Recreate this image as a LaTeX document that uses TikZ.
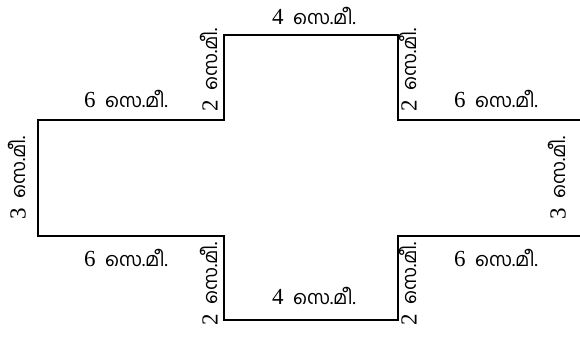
\documentclass[tikz,border=0pt]{standalone}
\usepackage{fontspec}
\setmainfont{Liberation Serif}
\newfontfamily\malfont[Script=Malayalam]{Hind Kochi}
\newcommand{\unitcm}{{\malfont\fontsize{19}{24}\selectfont സെ.മീ.}}
\newcommand{\measure}[1]{{\fontsize{23}{24}\selectfont #1}\ \ \unitcm}

\begin{document}
\begin{tikzpicture}[x=1pt,y=-1pt,font=\fontsize{19}{24}\selectfont]
    \tikzset{side/.style={inner sep=1pt},
             vside/.style={inner sep=1pt,rotate=90}}
    \useasboundingbox(0,0)rectangle(580,342);
    % the cross
    \draw[line width=2.8pt](582,120)--(398,120)--(398,35)--(224,35)--(224,120)--(38,120)
        --(38,236)--(224,236)--(224,320)--(398,320)--(398,236)--(582,236);

    \node[side](top)at(314,16){\measure{4}};
    \node[side](bot)at(314,296){\measure{4}};
    \node[side](tl)at(126,99){\measure{6}};
    \node[side](tr)at(496,99){\measure{6}};
    \node[side](bl)at(126,258){\measure{6}};
    \node[side](br)at(496,258){\measure{6}};

    \node[vside](left)at(17,178){\measure{3}};
    \node[vside](right)at(557,178){\measure{3}};
    \node[vside](tlv)at(209,70){\measure{2}};
    \node[vside](trv)at(408,70){\measure{2}};
    \node[vside](blv)at(209,284){\measure{2}};
    \node[vside](brv)at(408,284){\measure{2}};
\end{tikzpicture}
\end{document}
